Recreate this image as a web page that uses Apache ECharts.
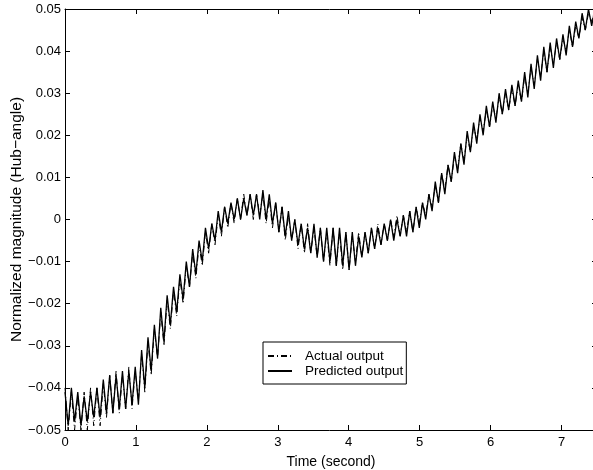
<!DOCTYPE html>
<html>
<head>
<meta charset="utf-8">
<script src="https://cdn.jsdelivr.net/npm/echarts@6/dist/echarts.min.js"></script>
<style>html,body{margin:0;padding:0;background:#fff}#c{width:593px;height:470px}</style>
</head>
<body>
<div id="c"></div>
<script>
// sample spacing of the traces (seconds)
const sampleStep = 0.045;
const xTicks = [0, 1, 2, 3, 4, 5, 6, 7];
const yTicks = [-0.05, -0.04, -0.03, -0.02, -0.01, 0, 0.01, 0.02, 0.03, 0.04, 0.05];

const predictedOutput = [
 -0.041,-0.049,-0.040,-0.048,-0.041,-0.049,-0.042,-0.048,-0.041,-0.047,
 -0.040,-0.047,-0.038,-0.046,-0.037,-0.046,-0.037,-0.045,-0.036,-0.045,
 -0.036,-0.044,-0.035,-0.044,-0.031,-0.040,-0.028,-0.036,-0.025,-0.033,
 -0.021,-0.029,-0.018,-0.025,-0.016,-0.022,-0.013,-0.019,-0.010,-0.016,
 -0.007,-0.013,-0.005,-0.010,-0.002,-0.007,-0.001,-0.005,0.002,-0.003,
 0.003,-0.001,0.004,0.000,0.005,0.000,0.005,0.001,0.006,0.001,
 0.006,0.000,0.007,0.000,0.006,-0.001,0.004,-0.003,0.003,-0.004,
 0.002,-0.005,0.000,-0.006,-0.001,-0.007,-0.002,-0.008,-0.001,-0.009,
 -0.002,-0.010,-0.002,-0.010,-0.002,-0.011,-0.002,-0.011,-0.003,-0.012,
 -0.003,-0.011,-0.004,-0.009,-0.003,-0.008,-0.002,-0.007,-0.002,-0.006,
 -0.001,-0.005,0.000,-0.005,0.000,-0.004,0.001,-0.004,0.002,-0.003,
 0.003,-0.002,0.004,0.000,0.006,0.002,0.009,0.004,0.011,0.006,
 0.013,0.009,0.016,0.011,0.018,0.013,0.021,0.016,0.023,0.018,
 0.025,0.020,0.027,0.022,0.028,0.023,0.030,0.025,0.031,0.026,
 0.032,0.027,0.033,0.028,0.035,0.029,0.037,0.031,0.039,0.033,
 0.041,0.035,0.042,0.036,0.043,0.038,0.044,0.039,0.046,0.041,
 0.047,0.043,0.049,0.045,0.050,0.046,0.050
];

const actualOutput = [
 -0.040,-0.050,-0.041,-0.050,-0.042,-0.050,-0.041,-0.050,-0.040,-0.049,
 -0.040,-0.049,-0.039,-0.047,-0.037,-0.046,-0.036,-0.046,-0.037,-0.045,
 -0.035,-0.045,-0.036,-0.043,-0.032,-0.041,-0.029,-0.037,-0.026,-0.033,
 -0.022,-0.030,-0.019,-0.026,-0.017,-0.023,-0.014,-0.020,-0.011,-0.016,
 -0.008,-0.014,-0.006,-0.011,-0.003,-0.008,-0.001,-0.006,0.001,-0.004,
 0.003,-0.002,0.004,-0.001,0.005,0.000,0.006,0.001,0.006,0.000,
 0.006,0.001,0.006,-0.001,0.005,-0.002,0.004,-0.003,0.003,-0.005,
 0.001,-0.005,0.000,-0.007,-0.001,-0.008,-0.001,-0.008,-0.002,-0.009,
 -0.002,-0.010,-0.003,-0.011,-0.002,-0.011,-0.003,-0.012,-0.003,-0.012,
 -0.004,-0.010,-0.003,-0.009,-0.003,-0.008,-0.002,-0.007,-0.001,-0.006,
 -0.001,-0.005,0.000,-0.004,0.001,-0.004,0.001,-0.003,0.002,-0.003,
 0.003,-0.001,0.004,0.001,0.006,0.003,0.008,0.004,0.011,0.007,
 0.013,0.009,0.015,0.012,0.018,0.014,0.020,0.016,0.022,0.019,
 0.024,0.021,0.026,0.022,0.027,0.024,0.029,0.025,0.030,0.026,
 0.031,0.027,0.032,0.028,0.034,0.030,0.036,0.032,0.038,0.034,
 0.040,0.035,0.041,0.037,0.042,0.038,0.043,0.040,0.045,0.041,
 0.046,0.043,0.048,0.045,0.049,0.047,0.050
];

const toPairs = arr => arr.map((v, i) => [+(i * sampleStep).toFixed(3), v]);
const fmtY = v => {
  const r = Math.round(v * 100) / 100;
  if (Math.abs(r) < 1e-9) return '0';
  return r.toFixed(2).replace('-', '\u2212');
};
const FONT = '"Liberation Sans", Arial, Helvetica, sans-serif';
const axisLine = {show: true, onZero: false, lineStyle: {color: '#000', width: 1}};
const tick = {show: true, inside: true, length: 5, lineStyle: {color: '#000', width: 1}};

const chart = echarts.init(document.getElementById('c'), null, {renderer: 'canvas'});
chart.setOption({
  animation: false,
  backgroundColor: '#fff',
  grid: {left: 65, top: 9, width: 532, height: 421, containLabel: false, outerBoundsMode: 'none'},
  legend: {
    orient: 'vertical', left: 263, top: 342,
    padding: [7, 3, 6, 4],
    itemWidth: 24, itemHeight: 15, itemGap: 1,
    borderColor: '#000', borderWidth: 1, borderRadius: 0,
    backgroundColor: '#fff',
    itemStyle: {opacity: 0},
    textStyle: {fontFamily: FONT, fontSize: 13.5, color: '#000', padding: [0, 0, 0, 8]},
    data: ['Actual output', 'Predicted output']
  },
  xAxis: [
    {type: 'value', min: 0, max: 7.5, interval: 1, position: 'bottom',
     name: 'Time (second)', nameLocation: 'middle', nameGap: 25, nameMoveOverlap: false,
     nameTextStyle: {fontFamily: FONT, fontSize: 14, color: '#000'},
     axisLine: axisLine, axisTick: tick, splitLine: {show: false},
     axisLabel: {fontFamily: FONT, fontSize: 13, color: '#000', margin: 6, showMaxLabel: false,
       formatter: v => (xTicks.indexOf(Math.round(v * 1000) / 1000) >= 0 ? String(v) : '')}},
    {type: 'value', min: 0, max: 7.5, interval: 1, position: 'top',
     axisLine: axisLine, axisTick: tick, splitLine: {show: false}, axisLabel: {show: false}}
  ],
  yAxis: [
    {type: 'value', min: yTicks[0], max: yTicks[yTicks.length - 1], interval: 0.01, position: 'left',
     name: 'Normalized magnitude (Hub\u2212angle)', nameLocation: 'middle', nameGap: 40, nameMoveOverlap: false,
     nameTextStyle: {fontFamily: FONT, fontSize: 15.5, color: '#000'},
     axisLine: axisLine, axisTick: tick, splitLine: {show: false},
     axisLabel: {fontFamily: FONT, fontSize: 13, color: '#000', margin: 4, formatter: fmtY}},
    {type: 'value', min: yTicks[0], max: yTicks[yTicks.length - 1], interval: 0.01, position: 'right',
     axisLine: axisLine, axisTick: tick, splitLine: {show: false}, axisLabel: {show: false}}
  ],
  series: [
    {name: 'Actual output', type: 'line', xAxisIndex: 0, yAxisIndex: 0,
     data: toPairs(actualOutput), symbol: 'none', smooth: false, clip: true,
     lineStyle: {color: '#000', width: 1, type: [6, 3, 1, 3]}, itemStyle: {color: '#000'}},
    {name: 'Predicted output', type: 'line', xAxisIndex: 0, yAxisIndex: 0,
     data: toPairs(predictedOutput), symbol: 'none', smooth: false, clip: true,
     lineStyle: {color: '#000', width: 1.3, type: 'solid'}, itemStyle: {color: '#000'}}
  ]
});
</script>
</body>
</html>
